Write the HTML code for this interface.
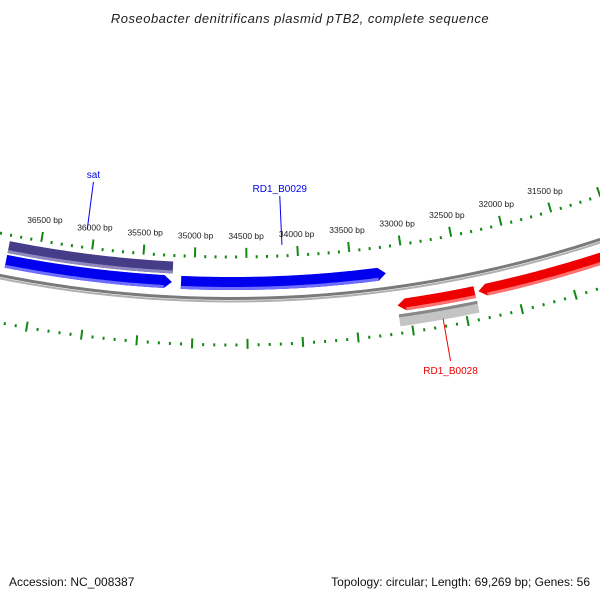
<!DOCTYPE html>
<html><head><meta charset="utf-8"><style>
html,body{margin:0;padding:0;background:#fff;width:600px;height:600px;overflow:hidden}
svg{display:block;font-family:"Liberation Sans","DejaVu Sans",sans-serif}
</style></head><body>
<svg id="map" width="600" height="600" viewBox="0 0 600 600" xmlns="http://www.w3.org/2000/svg">
<text x="300" y="23" text-anchor="middle" font-size="13" font-style="italic" fill="#222" letter-spacing="0.5">Roseobacter denitrificans plasmid pTB2, complete sequence</text>
<g id="rings"></g>
<g id="feats"></g>
<g id="labels"></g>
<text x="9" y="586" font-size="12" fill="#111">Accession: NC_008387</text>
<text x="590" y="586" font-size="12" fill="#111" text-anchor="end">Topology: circular; Length: 69,269 bp; Genes: 56</text>
</svg>
<script>
const genomeLength = 69269;
const tickLabels = [36500,36000,35500,35000,34500,34000,33500,33000,32500,32000,31500];
const featStarts = [36800, 35124, 36800, 33108, 32350, 33108];
const featEnds   = [35208, 33175, 35210, 32385, 30500, 32380];
const featNames  = ['sat-outer','RD1_B0029','sat','RD1_B0028','gene-right','RD1_B0028-gray'];
const geneLabels = ['sat','RD1_B0029','RD1_B0028'];
const geneLabelBp = [36073, 34150, 32715];

const cx=232, cy=-878, bp0=34640;
const NS='http://www.w3.org/2000/svg';
function ang(bp){return (bp0-bp)*2*Math.PI/genomeLength;}
function pt(bp,r){const t=ang(bp);return [cx+r*Math.sin(t),cy+r*Math.cos(t)];}
function mk(tag,attrs,parent){const e=document.createElementNS(NS,tag);for(const k in attrs)e.setAttribute(k,attrs[k]);parent.appendChild(e);return e;}
function arcPts(b1,b2,r){const a=[];const n=60;for(let i=0;i<=n;i++){a.push(pt(b1+(b2-b1)*i/n,r));}return a;}
function poly(p){return 'M'+p.map(q=>q[0].toFixed(2)+','+q[1].toFixed(2)).join('L')+'Z';}
const rings=document.getElementById('rings'), feats=document.getElementById('feats'), labels=document.getElementById('labels');

let bb=mk('path',{d:'M'+arcPts(40000,29000,1176.5).map(q=>q.join(',')).join('L'),fill:'none',stroke:'#7a7a7a','stroke-width':3},rings);


let bb2=mk('path',{d:'M'+arcPts(40000,29000,1179.5).map(q=>q.join(',')).join('L'),fill:'none',stroke:'#b0b0b0','stroke-width':2},rings);



function tickRing(rDot, rIn, rOut, name){
  for(let bp=29000; bp<=40000; bp+=100){
    const major = bp%500===0;
    const a=pt(bp, major?rIn:rDot-1.5), b=pt(bp, major?rOut:rDot+1.5);
    const l=mk('line',{x1:a[0],y1:a[1],x2:b[0],y2:b[1],stroke:'#118811','stroke-width':2},rings);
    
    
  }
}
tickRing(1135,1126,1136,'outer');
tickRing(1223,1217,1227,'inner');

tickLabels.forEach(bp=>{
  const p=pt(bp,1114);
  const t=mk('text',{x:p[0],y:p[1]+3,'text-anchor':'middle','font-size':8.5,fill:'#222'},labels);
  t.textContent=bp+' bp';
  
  
});

const featStyle=[
 {r1:1141,r2:1153,fill:'#463c88',edge:'#8f88c0',arrow:0},
 {r1:1155,r2:1168,fill:'#0000ee',edge:'#6d6dff',arrow:1},
 {r1:1155,r2:1168,fill:'#0000ee',edge:'#6d6dff',arrow:1},
 {r1:1189,r2:1201,fill:'#ee0000',edge:'#ff7070',arrow:-1},
 {r1:1189,r2:1201,fill:'#ee0000',edge:'#ff7070',arrow:-1},
 {r1:1204,r2:1216,fill:'#c4c4c4',edge:'#888',arrow:0}
];
featNames.forEach((nm,i)=>{
  const s=featStyle[i], b1=featStarts[i], b2=featEnds[i];
  const headBp=8/(1180*2*Math.PI/genomeLength);
  let p;
  const rm=(s.r1+s.r2)/2;
  if(s.arrow===1){
    const hb=b2+headBp;
    p=arcPts(b1,hb,s.r1).concat([pt(b2,rm)]).concat(arcPts(hb,b1,s.r2));
  } else if(s.arrow===-1){
    const hb=b1-headBp;
    p=[pt(b1,rm)].concat(arcPts(hb,b2,s.r1)).concat(arcPts(b2,hb,s.r2));
  } else {
    p=arcPts(b1,b2,s.r1).concat(arcPts(b2,b1,s.r2));
  }
  const g=mk('path',{d:poly(p),fill:s.fill},feats);
  
  
  const eb1 = s.arrow===-1? b1-headBp : b1, eb2 = s.arrow===1? b2+headBp : b2;
  const er = s.fill==='#c4c4c4' ? s.r1+1.5 : s.r2-1.5;
  const e=mk('path',{d:'M'+arcPts(eb1,eb2,er).map(q=>q.join(',')).join('L'),fill:'none',stroke:s.edge,'stroke-width':3},feats);
  
  
});

const glStyle=[{r1:1117,r2:1069,col:'#0000ee'},{r1:1124,r2:1075,col:'#0000ee'},{r1:1215,r2:1258,col:'#ee0000'}];
geneLabels.forEach((nm,i)=>{
  const s=glStyle[i];
  const a=pt(geneLabelBp[i],s.r1), b=pt(geneLabelBp[i],s.r2);
  const l=mk('line',{x1:a[0],y1:a[1],x2:b[0],y2:b[1],stroke:s.col,'stroke-width':1},labels);
  
  
  const ty = i===2? b[1]+13 : b[1]-4;
  const t=mk('text',{x:b[0],y:ty,'text-anchor':'middle','font-size':10,fill:s.col},labels);
  t.textContent=nm;
  
  
});
</script>
</body></html>
